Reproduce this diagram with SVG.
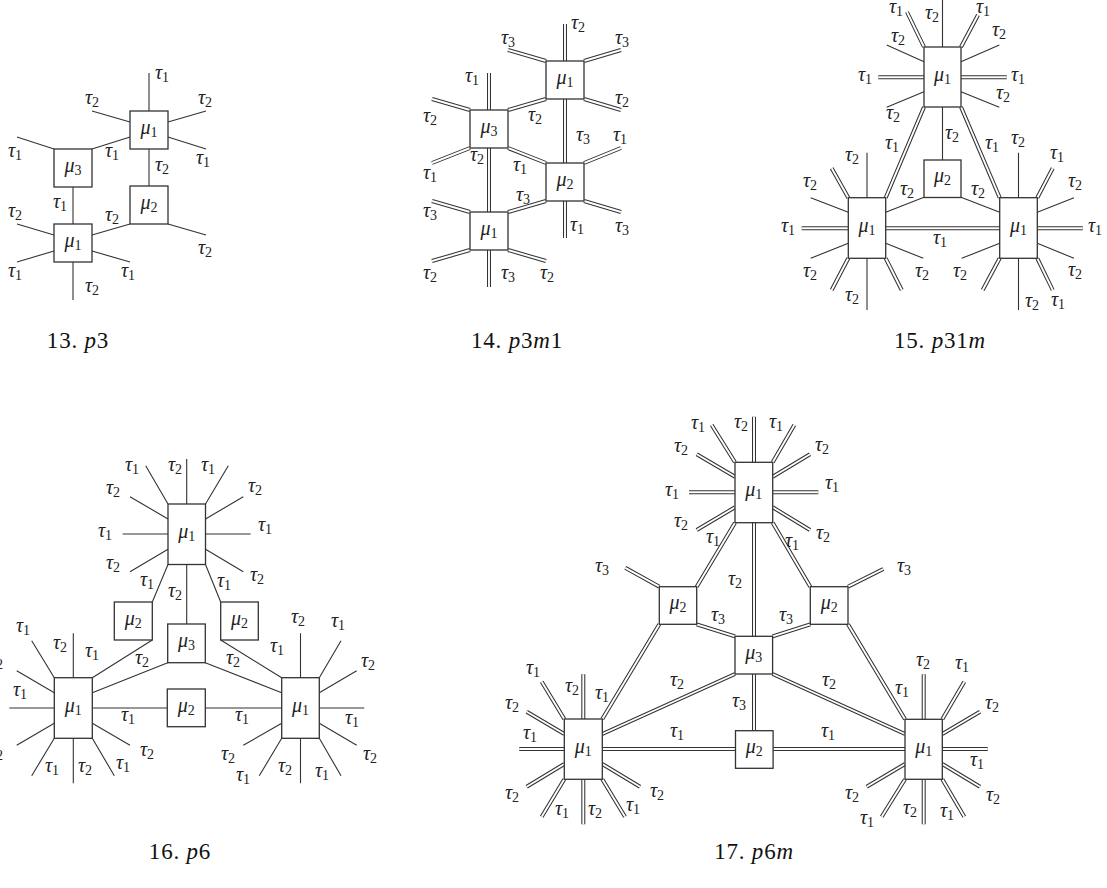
<svg xmlns="http://www.w3.org/2000/svg" xmlns:xlink="http://www.w3.org/1999/xlink" width="1107" height="888" viewBox="0 0 1107 888">
<style>
.ln{stroke:#333;stroke-width:1.1;fill:none}
.dbo{stroke:#333;stroke-width:4;fill:none}
.dbi{stroke:#fff;stroke-width:1.9;fill:none}
.box{fill:#fff;stroke:#333;stroke-width:1.3}
.t{font-family:'Liberation Serif',serif;font-style:italic;font-size:20px;fill:#222;text-anchor:middle}
.t tspan{font-style:normal;font-size:14px}
.cap{font-family:'Liberation Serif',serif;font-size:23px;letter-spacing:0.8px;fill:#111;text-anchor:middle}
.cap .i{font-style:italic}
</style>
<rect width="1107" height="888" fill="#fff"/>

<!-- ===== 13. p3 ===== -->
<g id="d13">
<g id="d13-connectors" class="ln">
<path d="M149,73V186M130,122L92,111M168,122L206,111M168,137L206,149M130,137L92,149M54,149L17,137M73,186V300M130,224L92,235M168,224L206,235M54,235L17,224M54,251L17,262M92,251L130,262"/>
</g>
<g id="d13-A"><rect class="box" x="130" y="111" width="38" height="38"/><text class="t" x="149" y="133.5">μ<tspan dy="3">1</tspan></text></g>
<g id="d13-B"><rect class="box" x="54" y="149" width="38" height="38"/><text class="t" x="73" y="171.5">μ<tspan dy="3">3</tspan></text></g>
<g id="d13-C"><rect class="box" x="130" y="186" width="38" height="38"/><text class="t" x="149" y="208.5">μ<tspan dy="3">2</tspan></text></g>
<g id="d13-D"><rect class="box" x="54" y="224" width="38" height="38"/><text class="t" x="73" y="246.5">μ<tspan dy="3">1</tspan></text></g>
<g id="d13-labels">
<text class="t" x="162" y="79">τ<tspan dy="3">1</tspan></text>
<text class="t" x="92" y="104">τ<tspan dy="3">2</tspan></text>
<text class="t" x="205" y="104">τ<tspan dy="3">2</tspan></text>
<text class="t" x="15" y="157">τ<tspan dy="3">1</tspan></text>
<text class="t" x="112" y="157">τ<tspan dy="3">1</tspan></text>
<text class="t" x="203" y="164">τ<tspan dy="3">1</tspan></text>
<text class="t" x="162" y="171">τ<tspan dy="3">2</tspan></text>
<text class="t" x="60" y="208">τ<tspan dy="3">1</tspan></text>
<text class="t" x="15" y="217">τ<tspan dy="3">2</tspan></text>
<text class="t" x="112" y="221">τ<tspan dy="3">2</tspan></text>
<text class="t" x="205" y="254">τ<tspan dy="3">2</tspan></text>
<text class="t" x="15" y="277">τ<tspan dy="3">1</tspan></text>
<text class="t" x="128" y="277">τ<tspan dy="3">1</tspan></text>
<text class="t" x="92" y="292">τ<tspan dy="3">2</tspan></text>
</g>
<text class="cap" x="78" y="348">13. <tspan class="i">p</tspan>3</text>
</g>

<!-- ===== 14. p3m1 ===== -->
<g id="d14">
<g id="d14-connectors">
<g class="dbo"><g id="d14-dbl"><path d="M565,24V238M489,73V287M546,61L508,50M584,61L621,50M584,99L621,110M546,99L508,110M470,110L432,99M470,148L432,163M508,148L546,163M584,163L621,148M584,201L621,212M546,201L508,212M470,212L432,201M470,250L432,261M508,250L546,261"/></g></g>
<use xlink:href="#d14-dbl" href="#d14-dbl" class="dbi"/>
</g>
<g id="d14-A"><rect class="box" x="546" y="61" width="38" height="38"/><text class="t" x="565" y="83.5">μ<tspan dy="3">1</tspan></text></g>
<g id="d14-B"><rect class="box" x="470" y="110" width="38" height="38"/><text class="t" x="489" y="132.5">μ<tspan dy="3">3</tspan></text></g>
<g id="d14-C"><rect class="box" x="546" y="163" width="38" height="38"/><text class="t" x="565" y="185.5">μ<tspan dy="3">2</tspan></text></g>
<g id="d14-D"><rect class="box" x="470" y="212" width="38" height="38"/><text class="t" x="489" y="234.5">μ<tspan dy="3">1</tspan></text></g>
<g id="d14-labels">
<text class="t" x="578" y="29">τ<tspan dy="3">2</tspan></text>
<text class="t" x="508" y="44">τ<tspan dy="3">3</tspan></text>
<text class="t" x="622" y="44">τ<tspan dy="3">3</tspan></text>
<text class="t" x="472" y="82">τ<tspan dy="3">1</tspan></text>
<text class="t" x="622" y="104">τ<tspan dy="3">2</tspan></text>
<text class="t" x="430" y="122">τ<tspan dy="3">2</tspan></text>
<text class="t" x="535" y="121">τ<tspan dy="3">2</tspan></text>
<text class="t" x="583" y="141">τ<tspan dy="3">3</tspan></text>
<text class="t" x="620" y="141">τ<tspan dy="3">1</tspan></text>
<text class="t" x="477" y="161">τ<tspan dy="3">2</tspan></text>
<text class="t" x="520" y="171">τ<tspan dy="3">1</tspan></text>
<text class="t" x="430" y="179">τ<tspan dy="3">1</tspan></text>
<text class="t" x="523" y="201">τ<tspan dy="3">3</tspan></text>
<text class="t" x="430" y="217">τ<tspan dy="3">3</tspan></text>
<text class="t" x="577" y="231">τ<tspan dy="3">1</tspan></text>
<text class="t" x="622" y="232">τ<tspan dy="3">3</tspan></text>
<text class="t" x="430" y="279">τ<tspan dy="3">2</tspan></text>
<text class="t" x="508" y="279">τ<tspan dy="3">3</tspan></text>
<text class="t" x="547" y="279">τ<tspan dy="3">2</tspan></text>
</g>
<text class="cap" x="517" y="348">14. <tspan class="i">p</tspan>3<tspan class="i">m</tspan>1</text>
</g>

<!-- ===== 15. p31m ===== -->
<g id="d15">
<g id="d15-connectors">
<path class="ln" d="M942.5,0V160M924,61.7L886.7,45M961,61.7L999.3,45M924,91.7L886.7,107.3M961,91.7L999.3,107.3M924,197.3L885.7,212.3M961,197.3L999.7,212.3M867,152.7V310M848.3,212.3L810.7,197.7M848.3,243.3L810.7,258.3M885.7,243.3L923.3,258.3M1018.5,152.7V310M1037.3,212.3L1074,197.7M1037.3,243.3L1074,258.3M999.7,243.3L961.7,258.3"/>
<g class="dbo"><g id="d15-dbl"><path d="M924,47L907,12M961,47L978,15M878.3,77.3H1006.7M924,107L885.7,197.7M961,107L999.7,197.7M801.7,228.3H1082.7M848.3,197.7L831.7,168.3M848.3,258.3L831.7,290M885.7,258.3L901.7,290M1037.3,197.7L1052.7,168.3M1037.3,258.3L1052.7,290M999.7,258.3L982.7,290"/></g></g>
<use xlink:href="#d15-dbl" href="#d15-dbl" class="dbi"/>
</g>
<g id="d15-T"><rect class="box" x="924" y="47" width="37" height="60"/><text class="t" x="942.5" y="80.5">μ<tspan dy="3">1</tspan></text></g>
<g id="d15-M"><rect class="box" x="924" y="160" width="37" height="37.5"/><text class="t" x="942.5" y="182">μ<tspan dy="3">2</tspan></text></g>
<g id="d15-L"><rect class="box" x="848.3" y="197.7" width="37.4" height="60.6"/><text class="t" x="867" y="231.5">μ<tspan dy="3">1</tspan></text></g>
<g id="d15-R"><rect class="box" x="999.7" y="197.7" width="37.6" height="60.6"/><text class="t" x="1018.5" y="231.5">μ<tspan dy="3">1</tspan></text></g>
<g id="d15-labels">
<text class="t" x="896" y="13">τ<tspan dy="3">1</tspan></text>
<text class="t" x="932" y="19">τ<tspan dy="3">2</tspan></text>
<text class="t" x="983" y="13">τ<tspan dy="3">1</tspan></text>
<text class="t" x="898" y="42">τ<tspan dy="3">2</tspan></text>
<text class="t" x="999" y="36">τ<tspan dy="3">2</tspan></text>
<text class="t" x="865" y="81">τ<tspan dy="3">1</tspan></text>
<text class="t" x="1018" y="81">τ<tspan dy="3">1</tspan></text>
<text class="t" x="893" y="119">τ<tspan dy="3">2</tspan></text>
<text class="t" x="1003" y="99">τ<tspan dy="3">2</tspan></text>
<text class="t" x="952" y="139">τ<tspan dy="3">2</tspan></text>
<text class="t" x="892" y="149">τ<tspan dy="3">1</tspan></text>
<text class="t" x="992" y="149">τ<tspan dy="3">1</tspan></text>
<text class="t" x="852" y="161">τ<tspan dy="3">2</tspan></text>
<text class="t" x="1018" y="144">τ<tspan dy="3">2</tspan></text>
<text class="t" x="1057" y="159">τ<tspan dy="3">1</tspan></text>
<text class="t" x="810" y="187">τ<tspan dy="3">2</tspan></text>
<text class="t" x="907" y="195">τ<tspan dy="3">2</tspan></text>
<text class="t" x="978" y="195">τ<tspan dy="3">2</tspan></text>
<text class="t" x="1075" y="187">τ<tspan dy="3">2</tspan></text>
<text class="t" x="788" y="232">τ<tspan dy="3">1</tspan></text>
<text class="t" x="1095" y="232">τ<tspan dy="3">1</tspan></text>
<text class="t" x="940" y="244">τ<tspan dy="3">1</tspan></text>
<text class="t" x="810" y="277">τ<tspan dy="3">2</tspan></text>
<text class="t" x="922" y="277">τ<tspan dy="3">2</tspan></text>
<text class="t" x="960" y="277">τ<tspan dy="3">2</tspan></text>
<text class="t" x="1075" y="276">τ<tspan dy="3">2</tspan></text>
<text class="t" x="852" y="301">τ<tspan dy="3">2</tspan></text>
<text class="t" x="1032" y="307">τ<tspan dy="3">2</tspan></text>
<text class="t" x="1058" y="306">τ<tspan dy="3">1</tspan></text>
</g>
<text class="cap" x="940" y="348">15. <tspan class="i">p</tspan>31<tspan class="i">m</tspan></text>
</g>

<!-- ===== 16. p6 ===== -->
<g id="d16">
<g id="d16-connectors" class="ln">
<path d="M186.7,459V624M168,504L145.7,465.7M205.5,504L228.3,465.7M168,519L130,496.7M205.5,519L243.3,496.7M122.7,534H250.7M168,549.3L130,571.7M205.5,549.3L243.3,571.7M168,564.5L152.3,602M205.5,564.5L220.7,602M152.3,640L92.3,677.7M220.7,640L281.7,677.7M167.7,662.7L92.3,692.7M205.3,662.7L281.7,692.7M9.3,708H364.3"/>
<path d="M73.3,633.3V783.3M54.3,677.7L31.7,640.7M54.3,692.7L16.7,670.7M54.3,723.3L16.7,745.3M54.3,738.3L31.7,775.7M92.3,738.3L114.3,775.7M92.3,723.3L130,745.3"/>
<path d="M300.5,633.3V783.3M319.3,677.7L341,640.7M319.3,692.7L356.7,670.7M319.3,723.3L356.7,745.3M319.3,738.3L341,775.7M281.7,738.3L259.3,775.7M281.7,723.3L243.3,745.3"/>
</g>
<g id="d16-T"><rect class="box" x="168" y="504" width="37.5" height="60.5"/><text class="t" x="186.7" y="537.5">μ<tspan dy="3">1</tspan></text></g>
<g id="d16-ML"><rect class="box" x="114.3" y="602" width="38" height="38"/><text class="t" x="133.3" y="624.5">μ<tspan dy="3">2</tspan></text></g>
<g id="d16-M3"><rect class="box" x="167.7" y="624" width="37.6" height="38.7"/><text class="t" x="186.5" y="647">μ<tspan dy="3">3</tspan></text></g>
<g id="d16-MR"><rect class="box" x="220.7" y="602" width="37.6" height="38"/><text class="t" x="239.5" y="624.5">μ<tspan dy="3">2</tspan></text></g>
<g id="d16-L"><rect class="box" x="54.3" y="677.7" width="38" height="60.6"/><text class="t" x="73.3" y="711.5">μ<tspan dy="3">1</tspan></text></g>
<g id="d16-MB"><rect class="box" x="167.3" y="689" width="38" height="37.7"/><text class="t" x="186.3" y="711.5">μ<tspan dy="3">2</tspan></text></g>
<g id="d16-R"><rect class="box" x="281.7" y="677.7" width="37.6" height="60.6"/><text class="t" x="300.5" y="711.5">μ<tspan dy="3">1</tspan></text></g>
<g id="d16-labels">
<text class="t" x="132" y="471">τ<tspan dy="3">1</tspan></text>
<text class="t" x="175" y="471">τ<tspan dy="3">2</tspan></text>
<text class="t" x="208" y="471">τ<tspan dy="3">1</tspan></text>
<text class="t" x="113" y="494">τ<tspan dy="3">2</tspan></text>
<text class="t" x="255" y="492">τ<tspan dy="3">2</tspan></text>
<text class="t" x="105" y="537">τ<tspan dy="3">1</tspan></text>
<text class="t" x="265" y="531">τ<tspan dy="3">1</tspan></text>
<text class="t" x="113" y="569">τ<tspan dy="3">2</tspan></text>
<text class="t" x="257" y="581">τ<tspan dy="3">2</tspan></text>
<text class="t" x="147" y="586">τ<tspan dy="3">1</tspan></text>
<text class="t" x="175" y="597">τ<tspan dy="3">2</tspan></text>
<text class="t" x="224" y="587">τ<tspan dy="3">1</tspan></text>
<text class="t" x="23" y="632">τ<tspan dy="3">1</tspan></text>
<text class="t" x="298" y="623">τ<tspan dy="3">2</tspan></text>
<text class="t" x="338" y="627">τ<tspan dy="3">1</tspan></text>
<text class="t" x="60" y="649">τ<tspan dy="3">2</tspan></text>
<text class="t" x="92" y="657">τ<tspan dy="3">1</tspan></text>
<text class="t" x="277" y="652">τ<tspan dy="3">1</tspan></text>
<text class="t" x="142" y="664">τ<tspan dy="3">2</tspan></text>
<text class="t" x="233" y="664">τ<tspan dy="3">2</tspan></text>
<text class="t" x="-4" y="666">τ<tspan dy="3">2</tspan></text>
<text class="t" x="368" y="667">τ<tspan dy="3">2</tspan></text>
<text class="t" x="20" y="696">τ<tspan dy="3">1</tspan></text>
<text class="t" x="128" y="721">τ<tspan dy="3">1</tspan></text>
<text class="t" x="242" y="721">τ<tspan dy="3">1</tspan></text>
<text class="t" x="352" y="724">τ<tspan dy="3">1</tspan></text>
<text class="t" x="-4" y="757">τ<tspan dy="3">2</tspan></text>
<text class="t" x="147" y="756">τ<tspan dy="3">2</tspan></text>
<text class="t" x="228" y="760">τ<tspan dy="3">2</tspan></text>
<text class="t" x="370" y="760">τ<tspan dy="3">2</tspan></text>
<text class="t" x="52" y="772">τ<tspan dy="3">1</tspan></text>
<text class="t" x="85" y="772">τ<tspan dy="3">2</tspan></text>
<text class="t" x="123" y="769">τ<tspan dy="3">1</tspan></text>
<text class="t" x="285" y="772">τ<tspan dy="3">2</tspan></text>
<text class="t" x="243" y="781">τ<tspan dy="3">1</tspan></text>
<text class="t" x="322" y="777">τ<tspan dy="3">1</tspan></text>
</g>
<text class="cap" x="180" y="859">16. <tspan class="i">p</tspan>6</text>
</g>

<!-- ===== 17. p6m ===== -->
<g id="d17">
<g id="d17-connectors">
<g class="dbo"><g id="d17-dbl"><path d="M754,416.7V730.7M735,462.3L711.7,425M772.7,462.3L794.3,425M735,476.7L696.7,454.3M772.7,476.7L810,454.3M689,492.3H818.3M735,507.3L696.7,530M772.7,507.3L810,530M735,522.7L696.7,586.7M772.7,522.7L810.3,586.7M659.3,586.7L625.3,567.8M848,586.7L883.3,569M696.7,624.3L735,636.3M810.3,624.3L772.6,636.3M659.3,624.3L602.3,719M848,624.3L905,719.3M735,674L602.3,734M772.6,674L905,734M519.3,749H987.7"/>
<path d="M583.3,674.3V824.3M564.3,719L541.7,681.7M564.3,734L526.7,711.7M564.3,764L526.7,786.7M564.3,779.3L541.7,816.7M602.3,779.3L625,816.7M602.3,764L640,786.7"/>
<path d="M923.7,674.3V824.3M942.3,719.3L964.3,681.7M942.3,734L980,711.7M942.3,764L980,786.7M942.3,779.3L964.3,816.7M905,779.3L881.7,816.7M905,764L866.7,786.7"/></g></g>
<use xlink:href="#d17-dbl" href="#d17-dbl" class="dbi"/>
</g>
<g id="d17-T"><rect class="box" x="735" y="462.3" width="37.7" height="60.4"/><text class="t" x="753.8" y="496">μ<tspan dy="3">1</tspan></text></g>
<g id="d17-ML"><rect class="box" x="659.3" y="586.7" width="37.4" height="37.6"/><text class="t" x="678" y="609">μ<tspan dy="3">2</tspan></text></g>
<g id="d17-MR"><rect class="box" x="810.3" y="586.7" width="37.7" height="37.6"/><text class="t" x="829.2" y="609">μ<tspan dy="3">2</tspan></text></g>
<g id="d17-M3"><rect class="box" x="735" y="636.3" width="37.6" height="37.7"/><text class="t" x="753.8" y="658.7">μ<tspan dy="3">3</tspan></text></g>
<g id="d17-BL"><rect class="box" x="564.3" y="719" width="38" height="60.3"/><text class="t" x="583.3" y="752.6">μ<tspan dy="3">1</tspan></text></g>
<g id="d17-MB"><rect class="box" x="735.5" y="730.7" width="37.6" height="37.6"/><text class="t" x="754.3" y="753">μ<tspan dy="3">2</tspan></text></g>
<g id="d17-BR"><rect class="box" x="905" y="719.3" width="37.3" height="60"/><text class="t" x="923.7" y="752.8">μ<tspan dy="3">1</tspan></text></g>
<g id="d17-labels">
<text class="t" x="698" y="429">τ<tspan dy="3">1</tspan></text>
<text class="t" x="741" y="428">τ<tspan dy="3">2</tspan></text>
<text class="t" x="776" y="428">τ<tspan dy="3">1</tspan></text>
<text class="t" x="681" y="452">τ<tspan dy="3">2</tspan></text>
<text class="t" x="822" y="451">τ<tspan dy="3">2</tspan></text>
<text class="t" x="672" y="496">τ<tspan dy="3">1</tspan></text>
<text class="t" x="832" y="489">τ<tspan dy="3">1</tspan></text>
<text class="t" x="681" y="527">τ<tspan dy="3">2</tspan></text>
<text class="t" x="823" y="539">τ<tspan dy="3">2</tspan></text>
<text class="t" x="713" y="543">τ<tspan dy="3">1</tspan></text>
<text class="t" x="792" y="547">τ<tspan dy="3">1</tspan></text>
<text class="t" x="602" y="572">τ<tspan dy="3">3</tspan></text>
<text class="t" x="904" y="572">τ<tspan dy="3">3</tspan></text>
<text class="t" x="735" y="585">τ<tspan dy="3">2</tspan></text>
<text class="t" x="718" y="621">τ<tspan dy="3">3</tspan></text>
<text class="t" x="786" y="621">τ<tspan dy="3">3</tspan></text>
<text class="t" x="533" y="674">τ<tspan dy="3">1</tspan></text>
<text class="t" x="923" y="666">τ<tspan dy="3">2</tspan></text>
<text class="t" x="962" y="669">τ<tspan dy="3">1</tspan></text>
<text class="t" x="677" y="686">τ<tspan dy="3">2</tspan></text>
<text class="t" x="829" y="686">τ<tspan dy="3">2</tspan></text>
<text class="t" x="572" y="692">τ<tspan dy="3">2</tspan></text>
<text class="t" x="602" y="699">τ<tspan dy="3">1</tspan></text>
<text class="t" x="902" y="694">τ<tspan dy="3">1</tspan></text>
<text class="t" x="739" y="707">τ<tspan dy="3">3</tspan></text>
<text class="t" x="512" y="709">τ<tspan dy="3">2</tspan></text>
<text class="t" x="992" y="709">τ<tspan dy="3">2</tspan></text>
<text class="t" x="677" y="737">τ<tspan dy="3">1</tspan></text>
<text class="t" x="828" y="737">τ<tspan dy="3">1</tspan></text>
<text class="t" x="530" y="739">τ<tspan dy="3">1</tspan></text>
<text class="t" x="977" y="766">τ<tspan dy="3">1</tspan></text>
<text class="t" x="512" y="799">τ<tspan dy="3">2</tspan></text>
<text class="t" x="657" y="797">τ<tspan dy="3">2</tspan></text>
<text class="t" x="852" y="799">τ<tspan dy="3">2</tspan></text>
<text class="t" x="993" y="801">τ<tspan dy="3">2</tspan></text>
<text class="t" x="562" y="815">τ<tspan dy="3">1</tspan></text>
<text class="t" x="595" y="815">τ<tspan dy="3">2</tspan></text>
<text class="t" x="633" y="811">τ<tspan dy="3">1</tspan></text>
<text class="t" x="867" y="824">τ<tspan dy="3">1</tspan></text>
<text class="t" x="910" y="814">τ<tspan dy="3">2</tspan></text>
<text class="t" x="947" y="817">τ<tspan dy="3">1</tspan></text>
</g>
<text class="cap" x="754" y="859">17. <tspan class="i">p</tspan>6<tspan class="i">m</tspan></text>
</g>
</svg>
